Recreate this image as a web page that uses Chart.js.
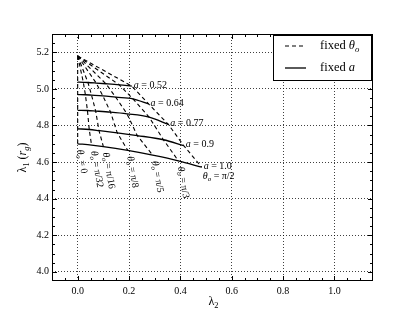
<!DOCTYPE html>
<html>
<head>
<meta charset="utf-8">
<script src="https://cdn.jsdelivr.net/npm/chart.js@4.4.0/dist/chart.umd.min.js"></script>
<style>
  html, body { margin: 0; padding: 0; background: #fff; }
  #wrap { width: 415px; height: 312px; }
</style>
</head>
<body>
<div id="wrap"><canvas id="chart" width="415" height="312"></canvas></div>
<script>
// spin values a and inclinations theta_o
var aValues = ['0.52', '0.64', '0.77', '0.9', '1.0'];
var thetaLabels = ['0', 'π/32', 'π/16', 'π/8', 'π/5', 'π/3', 'π/2'];

// common point at a = 0
var apexLam2 = 0.0;
var apexLam1 = 5.18;

// lambda2 / lambda1 along each fixed-a curve, one value per theta_o
var lam2A052 = [0.000, 0.022, 0.040, 0.072, 0.110, 0.162, 0.211];
var lam1A052 = [5.037, 5.036, 5.035, 5.032, 5.028, 5.022, 5.015];
var lam2A064 = [0.000, 0.030, 0.054, 0.098, 0.148, 0.215, 0.276];
var lam1A064 = [4.969, 4.968, 4.966, 4.962, 4.955, 4.946, 4.918];
var lam2A077 = [0.000, 0.038, 0.070, 0.128, 0.192, 0.278, 0.353];
var lam1A077 = [4.883, 4.882, 4.879, 4.873, 4.864, 4.846, 4.806];
var lam2A090 = [0.000, 0.045, 0.083, 0.154, 0.232, 0.334, 0.413];
var lam1A090 = [4.782, 4.778, 4.772, 4.760, 4.745, 4.722, 4.690];
var lam2A100 = [0.000, 0.054, 0.100, 0.195, 0.292, 0.392, 0.483];
var lam1A100 = [4.700, 4.693, 4.685, 4.664, 4.638, 4.607, 4.572];

var xTicksMajor = [0.0, 0.2, 0.4, 0.6, 0.8, 1.0];
var yTicksMajor = [4.0, 4.2, 4.4, 4.6, 4.8, 5.0, 5.2];

var FONT = '"Liberation Serif", "DejaVu Serif", serif';

var lam2Rows = [lam2A052, lam2A064, lam2A077, lam2A090, lam2A100];
var lam1Rows = [lam1A052, lam1A064, lam1A077, lam1A090, lam1A100];

var datasets = [];

// fixed a (solid)
lam2Rows.forEach(function (row, i) {
  datasets.push({
    label: 'a = ' + aValues[i],
    data: row.map(function (x, j) { return {x: x, y: lam1Rows[i][j]}; }),
    borderColor: '#000',
    borderWidth: 1.3,
    cubicInterpolationMode: 'monotone',
    kind: 'a'
  });
});

// fixed theta_o (dashed), from the a = 0 point outward
thetaLabels.forEach(function (lab, j) {
  var pts = [{x: apexLam2, y: apexLam1}];
  lam2Rows.forEach(function (row, i) {
    pts.push({x: row[j], y: lam1Rows[i][j]});
  });
  datasets.push({
    label: 'θo = ' + lab,
    data: pts,
    borderColor: '#000',
    borderWidth: 1.1,
    borderDash: [4, 3],
    tension: 0,
    kind: 'theta'
  });
});

function isIn(list, v) {
  return list.some(function (m) { return Math.abs(m - v) < 1e-6; });
}

function drawRich(ctx, parts, x, y, size) {
  var cx = x;
  parts.forEach(function (p) {
    var sub = p[1].indexOf('s') >= 0;
    var fs = sub ? size * 0.7 : size;
    ctx.font = (p[1].indexOf('i') >= 0 ? 'italic ' : '') + fs + 'px ' + FONT;
    ctx.fillText(p[0], cx, sub ? y + size * 0.28 : y);
    cx += ctx.measureText(p[0]).width;
  });
  return cx - x;
}

function richWidth(ctx, parts, size) {
  var w = 0;
  parts.forEach(function (p) {
    var sub = p[1].indexOf('s') >= 0;
    ctx.font = (p[1].indexOf('i') >= 0 ? 'italic ' : '') + (sub ? size * 0.7 : size) + 'px ' + FONT;
    w += ctx.measureText(p[0]).width;
  });
  return w;
}

var decorPlugin = {
  id: 'decor',
  afterDatasetsDraw: function (chart) {
    var ctx = chart.ctx, xs = chart.scales.x, ys = chart.scales.y;
    ctx.save();
    ctx.fillStyle = '#000';
    ctx.textAlign = 'left';
    ctx.textBaseline = 'middle';

    // a labels at the end of each solid curve
    lam2Rows.forEach(function (row, i) {
      var n = row.length - 1;
      var px = xs.getPixelForValue(row[n]) + 2;
      var py = ys.getPixelForValue(lam1Rows[i][n]) - 1;
      drawRich(ctx, [['a', 'i'], [' = ' + aValues[i], '']], px, py, 10);
    });

    // theta labels under each dashed line
    thetaLabels.forEach(function (lab, j) {
      var px = xs.getPixelForValue(lam2A100[j]);
      var py = ys.getPixelForValue(lam1A100[j]);
      var parts = [['θ', 'i'], ['o', 'is'], [' = ' + lab, '']];
      if (j === thetaLabels.length - 1) {
        drawRich(ctx, parts, px + 1, py + 9, 10);
      } else {
        ctx.save();
        ctx.translate(px + 2, py + 6);
        ctx.rotate(80 * Math.PI / 180);
        drawRich(ctx, parts, 0, 0, 10);
        ctx.restore();
      }
    });
    ctx.restore();
  },
  afterDraw: function (chart) {
    var ctx = chart.ctx, a = chart.chartArea, xs = chart.scales.x, ys = chart.scales.y;
    ctx.save();
    ctx.strokeStyle = '#000';
    ctx.lineWidth = 1;

    // frame
    ctx.strokeRect(a.left + 0.5, a.top + 0.5, a.right - a.left - 1, a.bottom - a.top - 1);

    // inward ticks on all sides
    ctx.beginPath();
    xs.ticks.forEach(function (t) {
      var px = Math.round(xs.getPixelForValue(t.value)) + 0.5;
      if (px <= a.left + 1 || px >= a.right - 1) return;
      var len = isIn(xTicksMajor, t.value) || Math.abs(t.value * 5 - Math.round(t.value * 5)) < 1e-6 ? 5 : 3;
      ctx.moveTo(px, a.bottom); ctx.lineTo(px, a.bottom - len);
      ctx.moveTo(px, a.top); ctx.lineTo(px, a.top + len);
    });
    ys.ticks.forEach(function (t) {
      var py = Math.round(ys.getPixelForValue(t.value)) + 0.5;
      if (py <= a.top + 1 || py >= a.bottom - 1) return;
      var len = isIn(yTicksMajor, t.value) ? 5 : 3;
      ctx.moveTo(a.left, py); ctx.lineTo(a.left + len, py);
      ctx.moveTo(a.right, py); ctx.lineTo(a.right - len, py);
    });
    ctx.stroke();

    // legend box
    var bw = 98, bh = 45;
    var bx = a.right - 2 - bw, by = a.top + 1;
    ctx.fillStyle = '#fff';
    ctx.fillRect(bx, by, bw, bh);
    ctx.strokeRect(bx + 0.5, by + 0.5, bw, bh);

    var rows = [
      {dash: [4, 3], width: 1.1, parts: [['fixed ', ''], ['θ', 'i'], ['o', 'is']]},
      {dash: [], width: 1.3, parts: [['fixed ', ''], ['a', 'i']]}
    ];
    rows.forEach(function (r, k) {
      var ry = by + 11 + k * 22;
      ctx.beginPath();
      ctx.setLineDash(r.dash);
      ctx.lineWidth = r.width;
      ctx.moveTo(bx + 12, ry); ctx.lineTo(bx + 33, ry);
      ctx.stroke();
      ctx.setLineDash([]);
      ctx.fillStyle = '#000';
      ctx.textAlign = 'left';
      ctx.textBaseline = 'middle';
      drawRich(ctx, r.parts, bx + 47, ry, 12.5);
    });

    // axis titles
    ctx.fillStyle = '#000';
    ctx.textBaseline = 'middle';
    var xt = [['λ', ''], ['2', 's']];
    var w = richWidth(ctx, xt, 12);
    drawRich(ctx, xt, (a.left + a.right) / 2 - w / 2 + 1, 302, 12);

    var yt = [['λ', ''], ['1', 's'], [' (', ''], ['r', 'i'], ['g', 'is'], [')', '']];
    ctx.save();
    ctx.translate(23, (a.top + a.bottom) / 2);
    ctx.rotate(-Math.PI / 2);
    w = richWidth(ctx, yt, 12);
    drawRich(ctx, yt, -w / 2, 0, 12);
    ctx.restore();

    ctx.restore();
  }
};

Chart.defaults.font.family = FONT;
Chart.defaults.font.size = 10;
Chart.defaults.color = '#000';

var chart = new Chart(document.getElementById('chart'), {
  type: 'scatter',
  data: {datasets: datasets},
  options: {
    responsive: false,
    animation: false,
    showLine: true,
    layout: {padding: {top: 34, right: 42, left: 0, bottom: 0}},
    elements: {point: {radius: 0, hoverRadius: 0}},
    plugins: {legend: {display: false}, tooltip: {enabled: false}},
    events: [],
    scales: {
      x: {
        type: 'linear',
        min: -0.1,
        max: 1.15,
        afterFit: function (s) { s.height = 31; },
        ticks: {
          stepSize: 0.05,
          autoSkip: false,
          maxRotation: 0,
          padding: 4,
          callback: function (v) { return isIn(xTicksMajor, v) ? v.toFixed(1) : ''; }
        },
        grid: {
          drawTicks: false,
          lineWidth: 1,
          color: function (c) { return c.tick && isIn(xTicksMajor, c.tick.value) ? 'rgba(0,0,0,0.75)' : 'rgba(0,0,0,0)'; }
        },
        border: {display: false, dash: [1, 2]}
      },
      y: {
        type: 'linear',
        min: 3.95,
        max: 5.3,
        afterFit: function (s) { s.width = 52; },
        ticks: {
          stepSize: 0.05,
          autoSkip: false,
          padding: 3,
          callback: function (v) { return isIn(yTicksMajor, v) ? v.toFixed(1) : ''; }
        },
        grid: {
          drawTicks: false,
          lineWidth: 1,
          color: function (c) { return c.tick && isIn(yTicksMajor, c.tick.value) ? 'rgba(0,0,0,0.75)' : 'rgba(0,0,0,0)'; }
        },
        border: {display: false, dash: [1, 2]}
      }
    }
  },
  plugins: [decorPlugin]
});
</script>
</body>
</html>
